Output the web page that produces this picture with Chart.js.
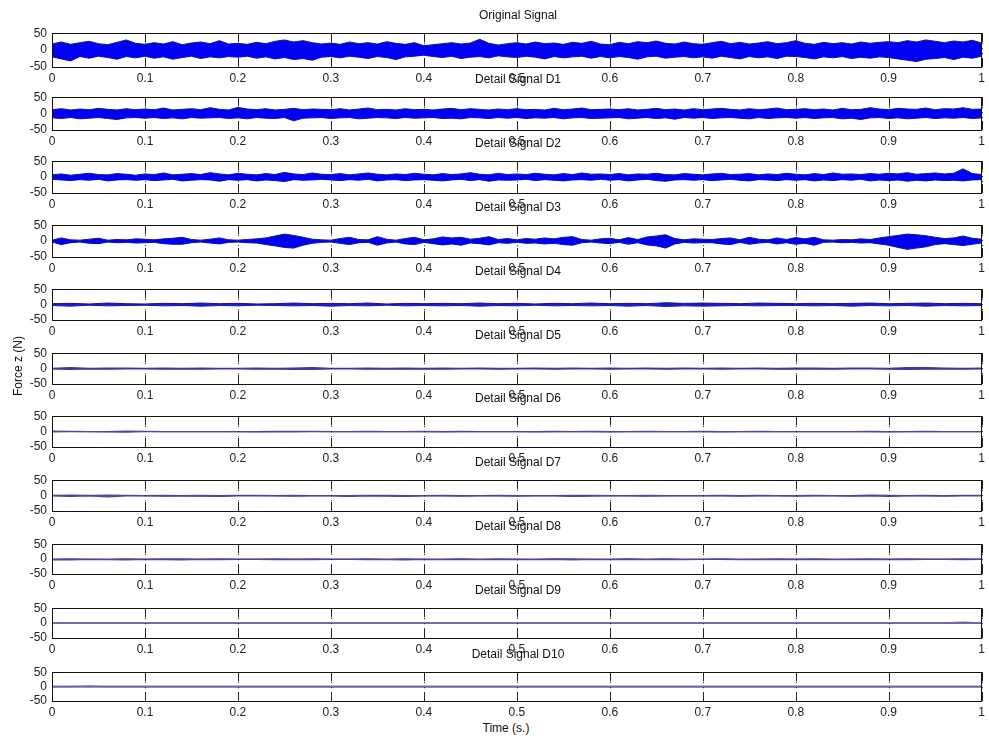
<!DOCTYPE html>
<html>
<head>
<meta charset="utf-8">
<script src="https://cdn.jsdelivr.net/npm/chart.js@4.4.1/dist/chart.umd.min.js"></script>
<style>
  html, body { margin: 0; padding: 0; background: #fff; }
  #wrap { position: relative; width: 989px; height: 738px; overflow: hidden; font-family: "Liberation Sans", Arial, sans-serif; }
  .panel { position: absolute; left: 0; }
  .ptitle { position: absolute; left: 52px; width: 932px; text-align: center; font-size: 12px; line-height: 14px; color: #111; z-index: 5; }
  .axtitle { position: absolute; font-size: 12px; line-height: 14px; color: #111; white-space: nowrap; z-index: 5; }
</style>
</head>
<body>
<div id="wrap"></div>
<script>
// ---------- data (upper / lower envelope of each signal) ----------
const panelTitles = ['Original Signal', 'Detail Signal D1', 'Detail Signal D2', 'Detail Signal D3',
  'Detail Signal D4', 'Detail Signal D5', 'Detail Signal D6', 'Detail Signal D7',
  'Detail Signal D8', 'Detail Signal D9', 'Detail Signal D10'];

// sample instants (s) for the dense panels
const timesFine = [0,0.01,0.02,0.03,0.04,0.05,0.06,0.07,0.08,0.09,
  0.1,0.11,0.12,0.13,0.14,0.15,0.16,0.17,0.18,0.19,
  0.2,0.21,0.22,0.23,0.24,0.25,0.26,0.27,0.28,0.29,
  0.3,0.31,0.32,0.33,0.34,0.35,0.36,0.37,0.38,0.39,
  0.4,0.41,0.42,0.43,0.44,0.45,0.46,0.47,0.48,0.49,
  0.5,0.51,0.52,0.53,0.54,0.55,0.56,0.57,0.58,0.59,
  0.6,0.61,0.62,0.63,0.64,0.65,0.66,0.67,0.68,0.69,
  0.7,0.71,0.72,0.73,0.74,0.75,0.76,0.77,0.78,0.79,
  0.8,0.81,0.82,0.83,0.84,0.85,0.86,0.87,0.88,0.89,
  0.9,0.91,0.92,0.93,0.94,0.95,0.96,0.97,0.98,0.99,1];
// sample instants (s) for the quiet panels
const timesCoarse = [0,0.02,0.04,0.06,0.08,0.1,0.12,0.14,0.16,0.18,
  0.2,0.22,0.24,0.26,0.28,0.3,0.32,0.34,0.36,0.38,
  0.4,0.42,0.44,0.46,0.48,0.5,0.52,0.54,0.56,0.58,
  0.6,0.62,0.64,0.66,0.68,0.7,0.72,0.74,0.76,0.78,
  0.8,0.82,0.84,0.86,0.88,0.9,0.92,0.94,0.96,0.98,1];

const xTickValues = [0,0.1,0.2,0.3,0.4,0.5,0.6,0.7,0.8,0.9,1];
const xTickLabels = ['0','0.1','0.2','0.3','0.4','0.5','0.6','0.7','0.8','0.9','1'];
const yTickValues = [-50,0,50];
const yTickLabels = ['-50','0','50'];

const originalHi = [18,24,17,22,26,19,16,23,30,20, 17,22,18,25,16,21,24,19,28,18, 20,17,23,19,26,30,24,28,22,18,
  21,17,24,19,22,18,25,20,17,22, 13,16,19,22,18,21,32,20,15,19, 22,18,24,19,21,17,23,20,26,18,
  16,23,19,25,22,27,20,18,24,19, 17,22,26,19,23,18,21,25,19,22, 28,20,17,23,19,22,18,24,20,23,
  25,22,28,24,30,26,22,27,24,29, 21];
const originalLo = [-20,-26,-32,-19,-24,-18,-22,-27,-19,-23, -18,-24,-20,-27,-22,-18,-25,-20,-23,-19, -21,-18,-24,-20,-26,-22,-28,-25,-30,-21,
  -19,-23,-18,-21,-25,-19,-22,-28,-20,-18, -15,-19,-22,-18,-25,-21,-19,-23,-17,-20, -22,-18,-21,-26,-19,-23,-20,-18,-24,-19,
  -23,-19,-22,-27,-20,-18,-24,-21,-19,-23, -20,-24,-18,-22,-26,-19,-23,-20,-25,-18, -19,-22,-26,-20,-23,-19,-25,-21,-24,-20,
  -22,-26,-30,-34,-27,-25,-22,-28,-21,-24, -18];

const d1Hi = [12,15,11,14,12,16,13,11,15,12, 14,12,17,11,13,15,12,18,13,11, 19,14,12,15,11,13,16,12,14,13,
  12,15,11,14,17,12,13,11,15,12, 13,11,14,16,12,15,13,11,14,12, 15,12,13,11,16,12,14,17,12,13,
  14,12,15,11,13,16,12,14,11,15, 12,14,16,13,11,15,12,14,17,12, 13,15,12,14,11,16,12,13,18,14,
  12,16,14,13,17,12,15,14,18,13, 14];
const d1Lo = [-13,-15,-12,-16,-14,-12,-15,-18,-13,-12, -14,-12,-15,-13,-16,-12,-14,-13,-12,-15, -13,-16,-12,-14,-15,-12,-22,-14,-13,-12,
  -15,-13,-12,-16,-14,-12,-13,-15,-12,-14, -13,-12,-15,-14,-16,-12,-13,-15,-12,-14, -12,-15,-13,-14,-12,-16,-13,-12,-15,-14,
  -13,-12,-16,-14,-12,-15,-13,-17,-12,-14, -12,-15,-13,-12,-14,-16,-12,-15,-13,-12, -14,-12,-15,-13,-12,-16,-14,-18,-13,-12,
  -15,-13,-16,-14,-12,-15,-13,-14,-12,-15, -13];

const d2Hi = [7,10,6,9,12,8,7,11,9,6, 10,8,13,7,9,11,8,14,10,7, 12,9,7,11,8,15,10,8,13,9,
  8,11,7,10,13,9,7,10,8,12, 9,7,11,8,10,14,9,7,12,8, 10,8,12,9,7,11,8,13,9,10,
  8,11,7,10,9,12,8,7,11,9, 7,10,12,8,9,11,7,10,8,12, 9,7,11,8,13,9,10,8,11,9,
  12,10,14,9,11,13,10,12,26,11, 8];
const d2Lo = [-7,-9,-11,-8,-10,-7,-12,-9,-8,-10, -8,-11,-9,-7,-12,-10,-8,-9,-13,-8, -10,-8,-12,-9,-11,-14,-8,-10,-9,-7,
  -9,-11,-8,-10,-7,-12,-9,-8,-11,-9, -8,-10,-12,-9,-7,-11,-8,-13,-9,-10, -9,-7,-11,-8,-10,-12,-9,-8,-10,-7,
  -10,-8,-12,-9,-7,-11,-13,-9,-8,-10, -8,-11,-9,-7,-10,-12,-8,-9,-11,-8, -10,-8,-12,-9,-11,-8,-10,-7,-12,-9,
  -11,-9,-13,-10,-12,-9,-11,-10,-12,-9, -8];

const d3Hi = [3,10,4,3,6,9,3,5,4,7, 6,4,7,9,12,5,3,6,10,4, 3,5,7,10,16,22,18,12,6,4,
  3,8,12,5,4,14,6,3,8,12, 4,7,13,10,12,6,9,14,5,8, 4,8,6,10,7,12,14,5,3,7,
  9,4,11,5,13,16,20,8,4,7, 6,5,8,10,4,12,6,4,10,5, 11,7,12,4,3,5,4,7,5,10,
  14,18,22,20,17,12,8,10,16,9, 6];
const d3Lo = [-3,-11,-5,-3,-7,-8,-3,-5,-4,-6, -5,-4,-8,-10,-10,-5,-3,-6,-9,-4, -3,-5,-6,-11,-15,-20,-22,-13,-7,-4,
  -3,-7,-11,-5,-4,-13,-6,-3,-9,-11, -4,-8,-12,-9,-13,-6,-8,-12,-5,-7, -4,-7,-6,-9,-7,-11,-13,-5,-3,-6,
  -8,-4,-10,-5,-12,-15,-22,-9,-4,-6, -5,-5,-9,-11,-4,-10,-6,-4,-9,-5, -10,-7,-13,-4,-3,-5,-4,-6,-5,-9,
  -13,-20,-26,-22,-18,-11,-8,-11,-14,-10, -6];

const d4Hi = [3,4,2,5,3,2,4,3,5,3, 4,2,3,5,3,4,3,5,2,4, 3,4,3,5,3,4,2,4,3,5, 3,4,3,6,4,5,4,3,5,4, 3,4,3,4,5,3,4,5,3,4, 3];
const d4Lo = [-3,-5,-2,-4,-3,-2,-4,-3,-5,-3, -4,-2,-3,-4,-3,-5,-3,-4,-2,-4, -3,-4,-3,-5,-3,-4,-2,-4,-3,-4, -3,-5,-3,-6,-4,-5,-4,-3,-4,-3, -3,-4,-3,-5,-3,-4,-3,-5,-3,-4, -3];

const d5Hi = [1,3,1,2,2,1,2,1,2,1, 1,2,1,2,3,1,1,2,1,2, 1,2,1,2,1,1,2,1,2,1, 2,1,2,1,2,1,2,1,2,1, 2,2,1,2,2,1,3,3,2,1, 2];
const d5Lo = [-1,-3,-1,-2,-1,-1,-2,-1,-2,-1, -1,-2,-1,-3,-3,-1,-1,-2,-1,-2, -1,-2,-1,-1,-2,-1,-1,-2,-1,-1, -2,-1,-1,-2,-1,-1,-2,-1,-1,-2, -2,-1,-2,-1,-1,-2,-3,-2,-1,-2, -1];

const d6Hi = [2,1,0,0,2,1,0,0,0,0, 0,0,1,1,1,0,0,1,0,0, 1,0,1,0,0,0,0,1,0,1, 0,0,1,0,0,1,0,0,1,0, 0,0,0,0,1,0,0,1,0,0, 0];
const d6Lo = [-1,0,0,-1,-2,0,0,0,0,0, 0,-1,0,-1,0,0,0,0,0,0, 0,-1,0,0,0,0,-1,0,0,0, -1,0,0,0,0,0,-1,0,0,0, 0,0,0,0,0,-1,0,0,0,0, 0];

const d7Hi = [1,2,1,2,1,0,1,0,1,0, 1,1,0,1,0,0,0,1,1,0, 0,1,0,0,1,0,0,0,1,1, 0,0,1,0,0,0,1,0,1,0, 0,1,0,0,2,1,0,1,0,1, 1];
const d7Lo = [-1,-3,-1,-4,-1,-1,-2,-1,-2,-3, -1,-1,-1,-2,-1,-1,-3,-1,-2,-3, -1,-1,-2,-1,-1,-2,-1,-1,-3,-2, -1,-1,-2,-1,-1,-1,-1,-2,-1,-1, -2,-1,-1,-2,-1,-3,-1,-1,-2,-1, -1];

const d8Hi = [0,1,0,0,1,0,1,1,0,1, 0,0,1,0,1,0,0,1,0,1, 0,0,1,0,1,0,0,1,1,0, 0,1,0,1,0,0,1,0,0,1, 0,1,0,0,1,0,1,0,0,1, 0];
const d8Lo = [-3,-3,-1,-2,-3,-1,-2,-3,-1,-2, -1,-1,-2,-1,-2,-1,-1,-2,-2,-3, -1,-2,-1,-2,-2,-1,-2,-1,-3,-1, -2,-1,-2,-1,-2,-1,-1,-2,-1,-2, -1,-2,-2,-1,-2,-1,-2,-1,-1,-2, -1];

const d9Hi = [0,0,0,0,0,0,0,0,0,0, 0,0,0,0,0,0,0,0,0,0, 0,0,0,0,0,0,0,0,0,0, 0,0,0,0,0,0,0,0,0,0, 0,0,0,0,0,0,0,0,0,3, 0];
const d9Lo = [0,0,0,0,0,0,0,0,0,0, 0,0,0,0,0,0,0,0,0,0, 0,0,0,0,0,0,0,0,0,0, 0,0,0,0,0,0,0,0,0,0, 0,0,0,0,0,0,0,0,0,0, 0];

const d10Hi = [0,0,2,0,0,0,0,0,0,0, 0,0,0,0,0,0,0,0,0,0, 0,0,0,0,0,0,0,0,0,0, 0,0,0,0,0,0,0,0,0,0, 0,0,0,0,0,0,0,0,0,0, 0];
const d10Lo = [0,0,-1,0,0,0,0,0,0,0, 0,0,0,0,0,0,0,0,0,0, 0,0,0,0,0,0,0,0,0,0, 0,0,0,0,0,0,0,0,0,0, 0,0,0,0,0,0,0,0,0,0, 0];

const panelTimes   = [timesFine, timesFine, timesFine, timesFine, timesCoarse, timesCoarse, timesCoarse, timesCoarse, timesCoarse, timesCoarse, timesCoarse];
const upperSeries  = [originalHi, d1Hi, d2Hi, d3Hi, d4Hi, d5Hi, d6Hi, d7Hi, d8Hi, d9Hi, d10Hi];
const lowerSeries  = [originalLo, d1Lo, d2Lo, d3Lo, d4Lo, d5Lo, d6Lo, d7Lo, d8Lo, d9Lo, d10Lo];

// ---------- styles / layout ----------
const fillColors   = ['#0000f5','#0000f5','#0000f5','#0000f0','#1a1ad0','#3a3aa8','#4a4aa8','#4a4aa0','#4a4aa0','#6a6aa8','#6a6aa8'];
const borderColors = ['#16168c','#16168c','#16168c','#16168c','#16168a','#3a3a98','#4a4a9e','#4a4a98','#4a4a98','#6a6aa6','#6a6aa6'];
const borderWidths = [1,1,1,1,1,1.2,1.2,1.2,1.2,1.6,1.6];

const PAD_TOP = 8, XAXIS_H = 20, PLOT_LEFT = 52, PLOT_RIGHT = 984, W = 989;
const FONT = '"Liberation Sans", Arial, sans-serif';

const framePlugin = {
  id: 'matlabFrame',
  afterDatasetsDraw(chart) {
    const ctx = chart.ctx, ca = chart.chartArea, xs = chart.scales.x;
    ctx.save();
    ctx.strokeStyle = '#222';
    ctx.lineWidth = 1;
    xTickValues.forEach(v => {
      const px = Math.round(xs.getPixelForValue(v)) + 0.5;
      ctx.setLineDash([1, 4]);
      ctx.beginPath(); ctx.moveTo(px, ca.top); ctx.lineTo(px, ca.bottom); ctx.stroke();
      ctx.setLineDash([]);
      ctx.beginPath();
      ctx.moveTo(px, ca.top); ctx.lineTo(px, ca.top + 9);
      ctx.moveTo(px, ca.bottom); ctx.lineTo(px, ca.bottom - 9);
      ctx.stroke();
    });
    ctx.strokeStyle = '#111';
    ctx.strokeRect(Math.round(ca.left) + 0.5, Math.round(ca.top) + 0.5,
                   Math.round(ca.right - ca.left) - 1, Math.round(ca.bottom - ca.top));
    ctx.restore();
  }
};

const wrap = document.getElementById('wrap');

for (let i = 0; i < 11; i++) {
  const top = Math.round(29 + 63.9 * i);
  const bottom = Math.round(66.5 + 63.45 * i);
  const plotH = bottom - top;
  const H = plotH + PAD_TOP + XAXIS_H;

  const div = document.createElement('div');
  div.className = 'panel';
  div.style.top = (top - PAD_TOP) + 'px';
  div.style.width = W + 'px';
  div.style.height = H + 'px';
  const cv = document.createElement('canvas');
  cv.width = W; cv.height = H;
  cv.style.width = W + 'px'; cv.style.height = H + 'px';
  div.appendChild(cv);
  wrap.appendChild(div);

  const t = document.createElement('div');
  t.className = 'ptitle';
  t.style.top = (top - 14 - 7) + 'px';
  t.textContent = panelTitles[i];
  wrap.appendChild(t);

  const times = panelTimes[i];
  const hiPts = times.map((x, k) => ({ x, y: upperSeries[i][k] }));
  const loPts = times.map((x, k) => ({ x, y: lowerSeries[i][k] }));

  new Chart(cv, {
    type: 'line',
    data: {
      datasets: [
        { data: hiPts, fill: '+1', backgroundColor: fillColors[i], borderColor: borderColors[i],
          borderWidth: borderWidths[i], pointRadius: 0, tension: 0 },
        { data: loPts, fill: false, borderColor: borderColors[i],
          borderWidth: borderWidths[i], pointRadius: 0, tension: 0 }
      ]
    },
    options: {
      responsive: false,
      animation: false,
      devicePixelRatio: 1,
      events: [],
      layout: { padding: { top: PAD_TOP, right: W - PLOT_RIGHT, bottom: 0, left: 0 } },
      plugins: { legend: { display: false }, tooltip: { enabled: false }, title: { display: false } },
      scales: {
        x: {
          type: 'linear', min: 0, max: 1,
          afterBuildTicks: s => { s.ticks = xTickValues.map(v => ({ value: v })); },
          afterFit: s => { s.height = XAXIS_H; },
          grid: { display: false, drawTicks: false },
          border: { display: false },
          ticks: {
            autoSkip: false, maxRotation: 0, padding: 4, color: '#222',
            font: { family: FONT, size: 12 },
            callback: (v, idx) => xTickLabels[idx]
          }
        },
        y: {
          type: 'linear', min: -50, max: 50,
          afterBuildTicks: s => { s.ticks = yTickValues.map(v => ({ value: v })); },
          afterFit: s => { s.width = PLOT_LEFT; },
          grid: { display: false, drawTicks: false },
          border: { display: false },
          ticks: {
            autoSkip: false, padding: 5, color: '#222',
            font: { family: FONT, size: 12 },
            callback: (v, idx) => yTickLabels[idx]
          }
        }
      }
    },
    plugins: [framePlugin]
  });
}

// axis titles
const yt = document.createElement('div');
yt.className = 'axtitle';
yt.textContent = 'Force z (N)';
yt.style.left = '18px';
yt.style.top = '366px';
yt.style.transform = 'translate(-50%, -50%) rotate(-90deg)';
wrap.appendChild(yt);

const xt = document.createElement('div');
xt.className = 'axtitle';
xt.textContent = 'Time (s.)';
xt.style.left = '506px';
xt.style.top = '728px';
xt.style.transform = 'translate(-50%, -50%)';
wrap.appendChild(xt);
</script>
</body>
</html>
